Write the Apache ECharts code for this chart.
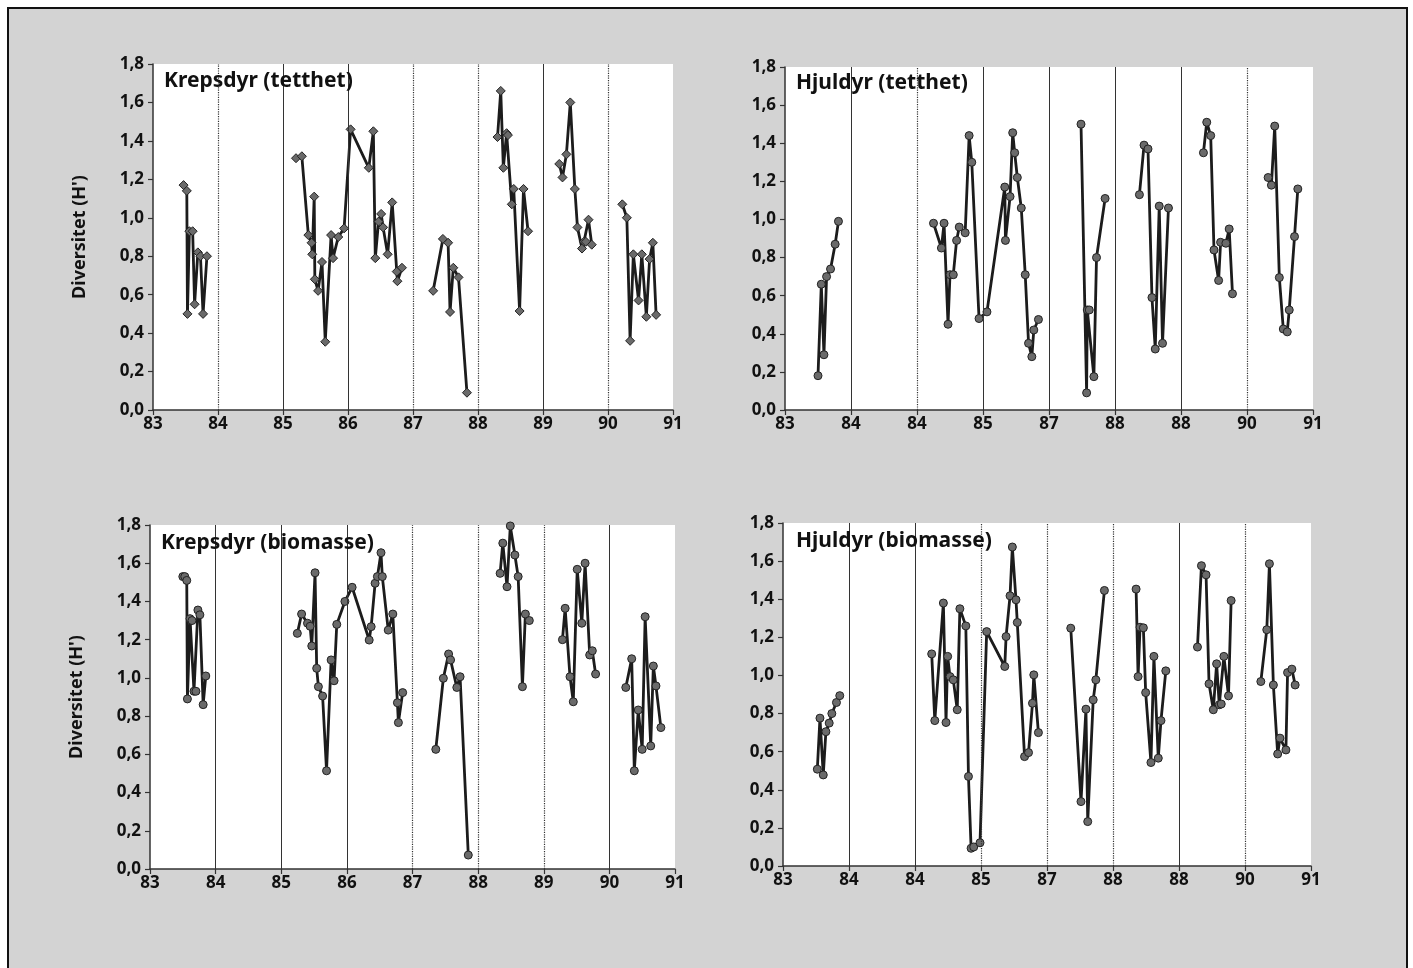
<!DOCTYPE html>
<html><head><meta charset="utf-8">
<script src="https://cdn.jsdelivr.net/npm/echarts@6/dist/echarts.min.js"></script>
<style>html,body{margin:0;padding:0;background:#fff}#c{width:1413px;height:968px}</style>
</head><body><div id="c"></div>
<script>
// ---- tick labels ----
const xTickLabelsLeft  = ['83','84','85','86','87','88','89','90','91'];
const xTickLabelsRight = ['83','84','84','85','87','88','88','90','91'];
const yTickLabels = ['0,0','0,2','0,4','0,6','0,8','1,0','1,2','1,4','1,6','1,8'];
const titles = ['Krepsdyr (tetthet)','Hjuldyr (tetthet)','Krepsdyr (biomasse)','Hjuldyr (biomasse)'];
const yName = "Diversitet (H')";
const separatorYears = [84,85,86,87,88,89,90];

// ---- data (null = break between sampling seasons) ----
const krepsTettX = [83.47,83.52,83.53,83.56,83.61,83.64,83.69,83.73,83.77,83.83,null,
  85.20,85.29,85.39,85.44,85.45,85.48,85.49,85.54,85.60,85.65,85.74,85.77,85.85,85.94,86.04,86.32,86.39,86.42,86.47,86.51,86.54,86.61,86.68,86.75,86.76,86.83,null,
  87.31,87.46,87.54,87.57,87.62,87.70,87.83,null,
  88.30,88.35,88.39,88.44,88.46,88.52,88.55,88.64,88.70,88.77,null,
  89.25,89.30,89.36,89.42,89.49,89.53,89.60,89.63,89.66,89.70,89.75,null,
  90.22,90.29,90.34,90.39,90.47,90.52,90.59,90.64,90.69,90.74];
const krepsTettY = [1.17,1.14,0.50,0.93,0.93,0.55,0.82,0.80,0.50,0.80,null,
  1.31,1.32,0.91,0.87,0.81,1.11,0.68,0.62,0.77,0.355,0.91,0.79,0.90,0.945,1.46,1.26,1.45,0.79,0.98,1.02,0.95,0.81,1.08,0.72,0.67,0.74,null,
  0.62,0.89,0.87,0.51,0.74,0.69,0.09,null,
  1.42,1.66,1.26,1.44,1.43,1.07,1.15,0.515,1.15,0.93,null,
  1.28,1.21,1.33,1.60,1.15,0.95,0.84,0.875,0.875,0.99,0.86,null,
  1.07,1.00,0.36,0.81,0.57,0.81,0.485,0.785,0.87,0.495];

const hjulTettX = [83.50,83.55,83.59,83.63,83.69,83.76,83.81,null,
  85.25,85.37,85.41,85.47,85.50,85.55,85.60,85.64,85.73,85.79,85.83,85.94,86.06,86.33,86.34,86.41,86.45,86.48,86.52,86.58,86.64,86.69,86.74,86.77,86.84,null,
  87.485,87.57,87.58,87.61,87.68,87.72,87.85,null,
  88.37,88.44,88.50,88.56,88.61,88.67,88.72,88.81,null,
  89.34,89.39,89.45,89.50,89.57,89.60,89.68,89.73,89.78,null,
  90.32,90.37,90.42,90.49,90.55,90.61,90.64,90.72,90.77];
const hjulTettY = [0.18,0.66,0.29,0.70,0.74,0.87,0.99,null,
  0.98,0.85,0.98,0.45,0.71,0.71,0.89,0.96,0.93,1.44,1.30,0.48,0.515,1.17,0.89,1.12,1.455,1.35,1.22,1.06,0.71,0.35,0.28,0.42,0.475,null,
  1.50,0.09,0.525,0.525,0.175,0.80,1.11,null,
  1.13,1.39,1.37,0.59,0.32,1.07,0.35,1.06,null,
  1.35,1.51,1.44,0.84,0.68,0.88,0.875,0.95,0.61,null,
  1.22,1.18,1.49,0.695,0.425,0.41,0.525,0.91,1.16];

const krepsBioX = [83.50,83.53,83.56,83.57,83.61,83.64,83.67,83.70,83.73,83.76,83.81,83.85,null,
  85.245,85.31,85.40,85.44,85.465,85.515,85.54,85.566,85.63,85.69,85.76,85.805,85.846,85.97,86.08,86.34,86.37,86.43,86.465,86.52,86.54,86.63,86.70,86.77,86.785,86.85,null,
  87.355,87.47,87.55,87.58,87.675,87.725,87.85,null,
  88.335,88.376,88.44,88.49,88.56,88.61,88.675,88.72,88.78,null,
  89.285,89.326,89.40,89.45,89.51,89.58,89.63,89.70,89.74,89.79,null,
  90.25,90.34,90.38,90.44,90.50,90.545,90.63,90.67,90.71,90.785];
const krepsBioY = [1.53,1.53,1.51,0.89,1.31,1.30,0.93,0.93,1.355,1.33,0.86,1.01,null,
  1.233,1.334,1.286,1.27,1.167,1.55,1.05,0.954,0.905,0.514,1.094,0.985,1.28,1.40,1.474,1.198,1.268,1.495,1.53,1.655,1.53,1.25,1.334,0.87,0.766,0.923,null,
  0.626,0.998,1.125,1.094,0.95,1.006,0.073,null,
  1.547,1.705,1.477,1.795,1.643,1.53,0.954,1.334,1.30,null,
  1.20,1.364,1.006,0.875,1.568,1.286,1.60,1.12,1.142,1.02,null,
  0.95,1.10,0.514,0.832,0.626,1.32,0.644,1.062,0.958,0.74];

const hjulBioX = [83.52,83.56,83.61,83.65,83.70,83.74,83.81,83.86,null,
  85.253,85.30,85.43,85.47,85.495,85.53,85.58,85.64,85.68,85.77,85.81,85.85,85.89,85.985,86.086,86.36,86.38,86.44,86.475,86.53,86.55,86.66,86.72,86.78,86.80,86.87,null,
  87.36,87.515,87.59,87.617,87.70,87.74,87.87,null,
  88.35,88.38,88.41,88.46,88.495,88.575,88.62,88.686,88.727,88.80,null,
  89.28,89.34,89.41,89.455,89.52,89.57,89.61,89.64,89.68,89.75,89.79,null,
  90.24,90.33,90.37,90.43,90.495,90.53,90.62,90.645,90.71,90.76];
const hjulBioY = [0.508,0.776,0.478,0.705,0.75,0.80,0.858,0.894,null,
  1.113,0.763,1.38,0.753,1.10,0.994,0.977,0.82,1.35,1.26,0.47,0.093,0.10,0.122,1.23,1.047,1.204,1.418,1.674,1.397,1.278,0.574,0.595,0.854,1.003,0.70,null,
  1.248,0.338,0.823,0.233,0.872,0.977,1.446,null,
  1.453,0.994,1.253,1.25,0.91,0.543,1.10,0.566,0.763,1.024,null,
  1.149,1.576,1.528,0.956,0.82,1.061,0.846,0.85,1.10,0.893,1.393,null,
  0.968,1.24,1.586,0.95,0.588,0.671,0.609,1.015,1.033,0.95];

// ---- layout / style config ----
const panels = [
  {x: krepsTettX, y: krepsTettY, ticks: xTickLabelsLeft, symbol: 'diamond', symbolSize: 9,
   grid: {left:153, top:64, width:520, height:346}, title: {left:164, top:71}, yName: true,
   sep: ['dotted','solid','solid','dotted','dotted','solid','dotted']},
  {x: hjulTettX, y: hjulTettY, ticks: xTickLabelsRight, symbol: 'circle', symbolSize: 8,
   grid: {left:785, top:67, width:528, height:343}, title: {left:796, top:73}, yName: false,
   sep: ['solid','dotted','solid','solid','solid','solid','dotted']},
  {x: krepsBioX, y: krepsBioY, ticks: xTickLabelsLeft, symbol: 'circle', symbolSize: 8,
   grid: {left:150, top:525, width:525, height:344}, title: {left:161, top:533}, yName: true,
   sep: ['solid','solid','solid','dotted','dotted','dotted','solid']},
  {x: hjulBioX, y: hjulBioY, ticks: xTickLabelsRight, symbol: 'circle', symbolSize: 8,
   grid: {left:783, top:523, width:528, height:343}, title: {left:796, top:531}, yName: false,
   sep: ['solid','solid','dotted','dotted','dotted','solid','dotted']}
];

const FONT = 'Noto Sans';
const grids = [], xAxes = [], yAxes = [], series = [], titleOpts = [];

panels.forEach((p, gi) => {
  grids.push(Object.assign({show:true, backgroundColor:'#ffffff', borderWidth:0}, p.grid));
  titleOpts.push({text: titles[gi], left: p.title.left, top: p.title.top, padding: 0,
    textStyle: {fontFamily: FONT, fontSize: 21, fontWeight: 'bold', color: '#111'}});
  xAxes.push({type:'value', gridIndex: gi, min:83, max:91, interval:1,
    axisLine:{show:true, onZero:false, lineStyle:{color:'#333', width:1.5}},
    axisTick:{show:true, length:5, lineStyle:{color:'#333', width:1.2}},
    splitLine:{show:false},
    axisLabel:{fontFamily:FONT, fontSize:17, fontWeight:'bold', color:'#111', margin:6,
      formatter: v => p.ticks[Math.round(v - 83)]}});
  yAxes.push({type:'value', gridIndex: gi, min:0, max:1.8, interval:0.2,
    name: p.yName ? yName : '', nameLocation:'middle', nameRotate:90, nameGap:64,
    nameTextStyle:{fontFamily:FONT, fontSize:18, fontWeight:'bold', color:'#111'},
    axisLine:{show:true, lineStyle:{color:'#333', width:1.5}},
    axisTick:{show:true, length:5, lineStyle:{color:'#333', width:1.2}},
    splitLine:{show:false},
    axisLabel:{fontFamily:FONT, fontSize:17, fontWeight:'bold', color:'#111', margin:9,
      formatter: v => yTickLabels[Math.round(v / 0.2)]}});
  // year separators
  series.push({type:'line', xAxisIndex: gi, yAxisIndex: gi, data: [], z: 1,
    markLine: {silent:true, symbol:['none','none'], label:{show:false}, animation:false,
      data: separatorYears.map((yr, k) => ({xAxis: yr,
        lineStyle:{type: p.sep[k], color:'#333', width: p.sep[k]==='solid' ? 1 : 1.2}}))}});
  // split into sampling seasons at nulls
  let seg = [];
  const flush = () => {
    if (seg.length) series.push({type:'line', xAxisIndex: gi, yAxisIndex: gi, data: seg, z: 3,
      symbol: p.symbol, symbolSize: p.symbolSize, showAllSymbol: true,
      lineStyle:{color:'#1c1c1c', width:2.8},
      itemStyle:{color:'#6a6a6a', borderColor:'#222', borderWidth:1}});
    seg = [];
  };
  p.x.forEach((xv, i) => { if (xv === null) flush(); else seg.push([xv, p.y[i]]); });
  flush();
});

const chart = echarts.init(document.getElementById('c'), null, {renderer:'canvas'});
chart.setOption({
  backgroundColor: '#ffffff',
  animation: false,
  graphic: [{type:'rect', z:-10, silent:true, shape:{x:8, y:8, width:1399, height:980},
    style:{fill:'#d3d3d3', stroke:'#111', lineWidth:2}}],
  title: titleOpts,
  grid: grids, xAxis: xAxes, yAxis: yAxes, series: series
});
</script></body></html>
